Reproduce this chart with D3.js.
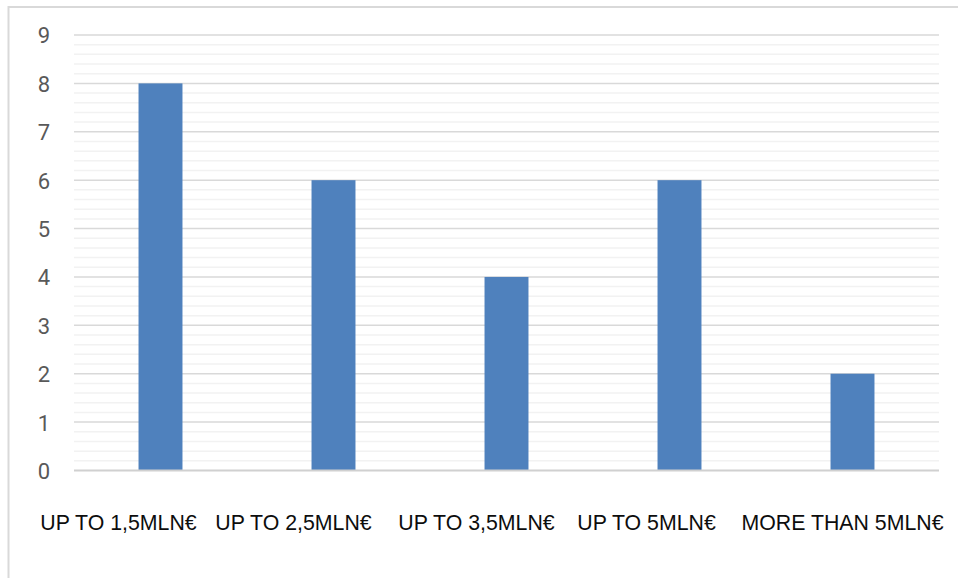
<!DOCTYPE html>
<html>
<head>
<meta charset="utf-8">
<script src="https://cdn.jsdelivr.net/npm/d3@7"></script>
<style>
  html, body { margin: 0; padding: 0; background: #fff; }
  svg { display: block; }
</style>
</head>
<body>
<svg id="chart" width="958" height="578"></svg>
<script>
// Projects by budget range
const categories = ["UP TO 1,5MLN€", "UP TO 2,5MLN€", "UP TO 3,5MLN€", "UP TO 5MLN€", "MORE THAN 5MLN€"];
const counts = [8, 6, 4, 6, 2];
const yTicks = [0, 1, 2, 3, 4, 5, 6, 7, 8, 9];
const yMax = 9;

const W = 958, H = 578;
const plot = { left: 74, right: 939, top: 35, bottom: 470.5 };

const svg = d3.select("#chart");

// chart frame (runs off the right and bottom edges)
svg.append("path")
  .attr("d", `M8.5,${H + 2} V7 H${W + 2}`)
  .attr("fill", "none")
  .attr("stroke", "#d9d9d9")
  .attr("stroke-width", 2);

const x = d3.scaleBand().domain(categories).range([plot.left, plot.right]).padding(0);
const y = d3.scaleLinear().domain([0, yMax]).range([plot.bottom, plot.top]);

// minor gridlines every 0.2
const minor = d3.range(0, yMax + 1e-9, 0.2).filter(v => Math.abs(v - Math.round(v)) > 1e-6);
svg.append("g").selectAll("line").data(minor).join("line")
  .attr("x1", plot.left).attr("x2", plot.right)
  .attr("y1", d => y(d)).attr("y2", d => y(d))
  .attr("stroke", "#f2f2f2").attr("stroke-width", 1.5);

// major gridlines
svg.append("g").selectAll("line").data(yTicks.filter(d => d > 0)).join("line")
  .attr("x1", plot.left).attr("x2", plot.right)
  .attr("y1", d => y(d)).attr("y2", d => y(d))
  .attr("stroke", "#d9d9d9").attr("stroke-width", 1.5);

// y axis labels
const yAxis = d3.axisLeft(y).tickValues(yTicks).tickSize(0).tickPadding(0);
const yg = svg.append("g").attr("transform", `translate(50,0)`).call(yAxis);
yg.select(".domain").remove();
yg.selectAll("text")
  .attr("font-family", "Roboto, 'Noto Sans', sans-serif")
  .attr("font-size", 22)
  .attr("fill", "#595959")
  .attr("dy", "0.36em");

// bars
const barW = x.bandwidth() * 0.254;
svg.append("g").selectAll("rect").data(categories).join("rect")
  .attr("x", (d) => x(d) + (x.bandwidth() - barW) / 2)
  .attr("width", barW)
  .attr("y", (d, i) => y(counts[i]))
  .attr("height", (d, i) => y(0) - y(counts[i]))
  .attr("fill", "#4f81bd");

// baseline
svg.append("line")
  .attr("x1", plot.left).attr("x2", plot.right)
  .attr("y1", y(0)).attr("y2", y(0))
  .attr("stroke", "#d0d0d0").attr("stroke-width", 2);

// category labels
const labelShift = [-42, -40, -30, -33, -10];
svg.append("g").selectAll("text").data(categories).join("text")
  .attr("x", (d, i) => x(d) + x.bandwidth() / 2 + labelShift[i])
  .attr("y", 529.5)
  .attr("text-anchor", "middle")
  .attr("font-family", "'Liberation Sans', Arial, sans-serif")
  .attr("font-size", 21.3)
  .attr("fill", "#0d0d0d")
  .text(d => d);
</script>
</body>
</html>
